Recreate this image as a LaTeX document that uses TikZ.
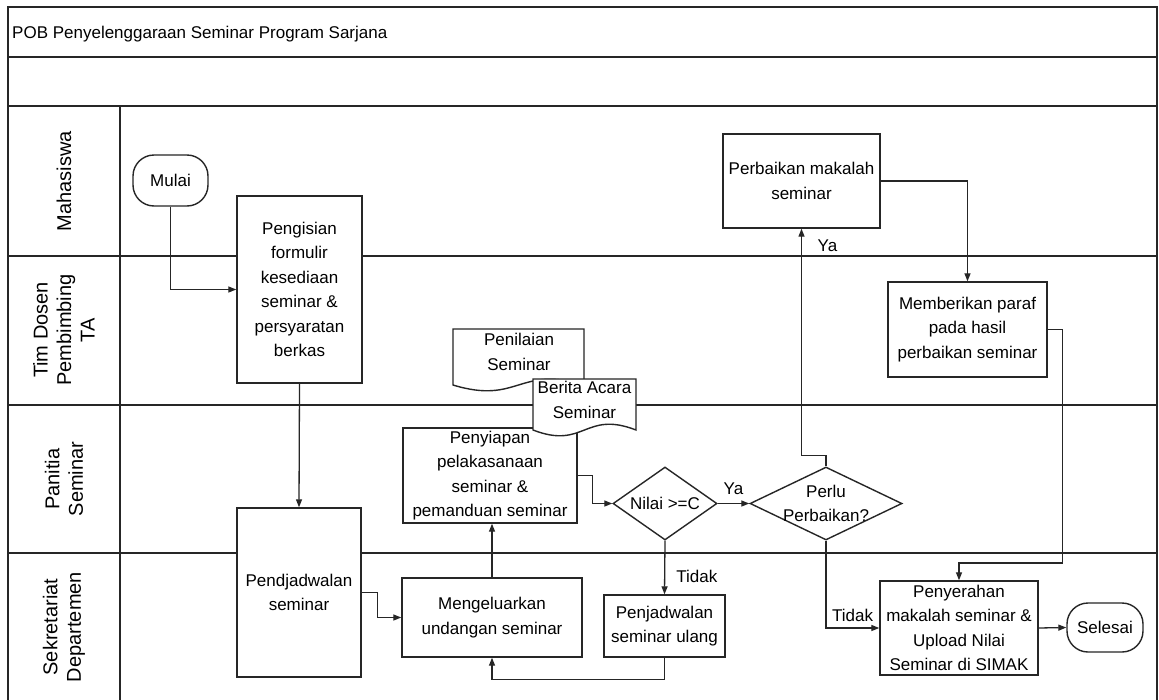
\documentclass[tikz,border=0pt]{standalone}
\usepackage{fontspec}
\setmainfont{Liberation Sans}
\usetikzlibrary{arrows.meta,shapes.geometric,calc}
\newcommand\mybody{\fontsize{17pt}{24.5pt}\selectfont}
\newcommand\mylane{\fontsize{20pt}{23.5pt}\selectfont}
\begin{document}
\begin{tikzpicture}[x=1pt,y=-1pt,
  frame/.style={line width=2pt, draw=black!85},
  box/.style={draw=black!85, line width=1.4pt, fill=white, rectangle, inner sep=0pt},
  term/.style={box, rounded corners=21pt},
  dec/.style={draw=black!85, line width=1.4pt, fill=white, diamond, inner sep=0pt},
  txt/.style={align=center, inner sep=0pt, font=\mybody, text=black},
  lbl/.style={inner sep=0pt, font=\mybody, text=black},
  lane/.style={align=center, inner sep=0pt, font=\mylane, rotate=90},
  docline/.style={draw=black!85, line width=1.4pt, fill=white},
  arr/.style={line width=1.3pt, draw=black!85, -{Triangle[length=8pt,width=6pt]}}]
\useasboundingbox (0,0) rectangle (1159,699);
\fill[white] (0,0) rectangle (1159,699);

% frame and lanes
\draw[frame] (8,702) -- (8,7) -- (1157,7) -- (1157,702);
\draw[frame] (8,57) -- (1157,57);
\draw[frame] (8,106) -- (1157,106);
\draw[frame] (120,106) -- (120,702);
\foreach \yy in {256,405,553} \draw[frame] (8,\yy) -- (1157,\yy);

\node[lbl, anchor=base west] (title) at (12,38) {POB Penyelenggaraan Seminar Program Sarjana};

\node[lane] (lane1) at (64,181) {Mahasiswa};
\node[lane] (lane2) at (64,330) {Tim Dosen\\Pembimbing\\TA};
\node[lane] (lane3) at (64,479) {Panitia\\Seminar};
\node[lane] (lane4) at (64,627) {Sekretariat\\Departemen};

% process nodes
\node[term, minimum width=75pt, minimum height=51pt, label={[txt]center:{Mulai}}] (mulai) at (170.5,180.5) {};
\node[box, minimum width=125pt, minimum height=187pt, label={[txt]center:{Pengisian\\formulir\\kesediaan\\seminar \&\\persyaratan\\berkas}}] (pengisian) at (299.5,289.5) {};
\node[box, minimum width=124pt, minimum height=169pt, label={[txt]center:{Pendjadwalan\\seminar}}] (pendjadwalan) at (299,592.5) {};
\node[box, minimum width=180pt, minimum height=79pt, label={[txt]center:{Mengeluarkan\\undangan seminar}}] (mengeluarkan) at (492,617.5) {};
\node[box, minimum width=174pt, minimum height=95pt, label={[txt]center:{Penyiapan\\pelakasanaan\\seminar \&\\pemanduan seminar}}] (penyiapan) at (490,475.5) {};

% documents
\filldraw[docline] (453,329) -- (584,329) -- (584,385) .. controls (518.5,365) and (518.5,405) .. (453,385) -- cycle;
\node[txt] (penilaian) at (519,352) {Penilaian\\Seminar};
\filldraw[docline] (533,379) -- (636,379) -- (636,430) .. controls (584.5,410) and (584.5,450) .. (533,430) -- cycle;
\node[txt] (berita) at (584.5,400) {Berita Acara\\Seminar};

\node[dec, minimum width=104pt, minimum height=73pt, label={[txt]center:{Nilai >=C}}] (nilai) at (665,503.5) {};
\node[dec, minimum width=152pt, minimum height=73pt, label={[txt]center:{Perlu\\Perbaikan?}}] (perlu) at (826,503.5) {};
\node[box, minimum width=121pt, minimum height=62pt, label={[txt]center:{Penjadwalan\\seminar ulang}}] (ulang) at (664.5,626) {};
\node[box, minimum width=157pt, minimum height=94pt, label={[txt]center:{Perbaikan makalah\\seminar}}] (perbaikan) at (801.5,181) {};
\node[box, minimum width=159pt, minimum height=95pt, label={[txt]center:{Memberikan paraf\\pada hasil\\perbaikan seminar}}] (memberikan) at (967.5,329.5) {};
\node[box, minimum width=158pt, minimum height=94pt, label={[txt]center:{Penyerahan\\makalah seminar \&\\Upload Nilai\\Seminar di SIMAK}}] (penyerahan) at (959,628) {};
\node[term, minimum width=76pt, minimum height=49pt, label={[txt]center:{Selesai}}] (selesai) at (1105,627.5) {};

% connectors
\draw[arr] (mulai.south) |- (pengisian.west);
\draw[arr] (pengisian.south) -- (pendjadwalan.north);
\draw[arr] (pendjadwalan.east) -- ++(16,0) |- (mengeluarkan.west);
\draw[arr] (mengeluarkan.north) -- (mengeluarkan.north |- penyiapan.south);
\draw[arr] (penyiapan.east) -- ++(15,0) |- (nilai.west);
\draw[arr] (nilai.east) -- node[lbl, above=8pt] (ya1) {Ya} (perlu.west);
\draw[arr] (nilai.south) -- node[lbl, pos=0.67, right=11pt] (tidak1) {Tidak} (ulang.north);
\draw[arr] (ulang.south) -- ++(0,22) -| (mengeluarkan.south);
\draw[arr] (perlu.north) -- ++(0,-11) -| (perbaikan.south);
\node[lbl, anchor=west] (ya2) at ([xshift=16pt,yshift=-17pt]perbaikan.south) {Ya};
\draw[arr] (perbaikan.east) -| (memberikan.north);
\draw[arr] (memberikan.east) -- ++(15,0) -- ++(0,233.5) -| (penyerahan.north);
\draw[arr] (perlu.south) |- node[lbl, pos=0.75, above=6pt] (tidak2) {Tidak} (penyerahan.west);
\draw[arr] (penyerahan.east) -- (selesai.west);
\end{tikzpicture}
\end{document}
